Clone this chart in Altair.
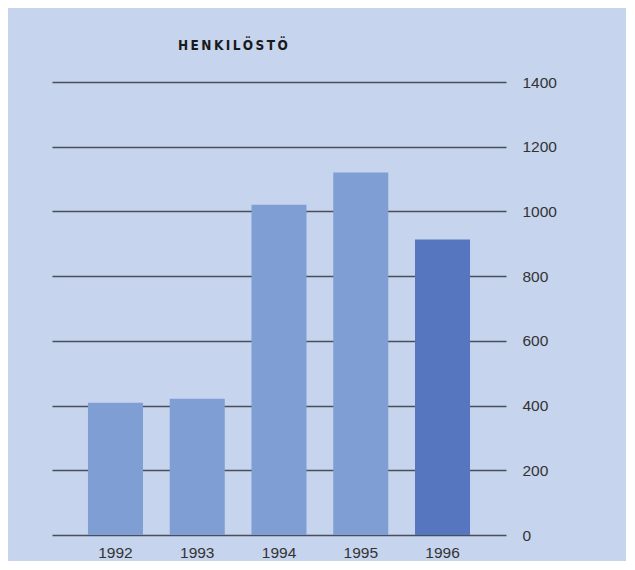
import altair as alt
import pandas as pd

years = ["1992", "1993", "1994", "1995", "1996"]
staff = [409, 421, 1021, 1120, 913]
y_ticks = [0, 200, 400, 600, 800, 1000, 1200, 1400]
title_text = "HENKILÖSTÖ"

df = pd.DataFrame({"year": years, "staff": staff})

spaced_title = "\u2009".join(title_text)

chart = alt.Chart(df).mark_bar().encode(
    x=alt.X("year:N", sort=years, title=None,
            scale=alt.Scale(paddingInner=0.327, paddingOuter=0.44),
            axis=alt.Axis(labelAngle=0, domain=False, ticks=False, tickSize=0,
                          labelPadding=10, labelFontSize=15.5, labelColor="#333333",
                          labelFont="Liberation Sans")),
    y=alt.Y("staff:Q", title=None,
            scale=alt.Scale(domain=[0, 1400], nice=False),
            axis=alt.Axis(orient="right", values=y_ticks, format="d", domain=False,
                          ticks=False, tickSize=0, labelPadding=16, labelFontSize=15.5,
                          labelColor="#333333", labelFont="Liberation Sans",
                          grid=True, gridColor="#4a4d5a", gridWidth=1.5,
                          gridOpacity=1)),
    color=alt.condition(alt.datum.year == "1996", alt.value("#5677bf"), alt.value("#7f9ed3")),
).properties(
    width=454,
    height=453,
    autosize=alt.AutoSizeParams(type="none"),
    padding={"left": 44, "top": 74, "right": 120, "bottom": 26},
    background="#c6d4ee",
    title=alt.TitleParams(spaced_title, anchor="start", dx=126, offset=23,
                          font="DejaVu Sans Condensed, Roboto Condensed, Liberation Sans, sans-serif",
                          fontSize=13.5, fontWeight="bold", color="#1a1a1a"),
).configure_view(stroke=None)

chart.save("out.html", embed_options={"renderer": "svg", "actions": False})
